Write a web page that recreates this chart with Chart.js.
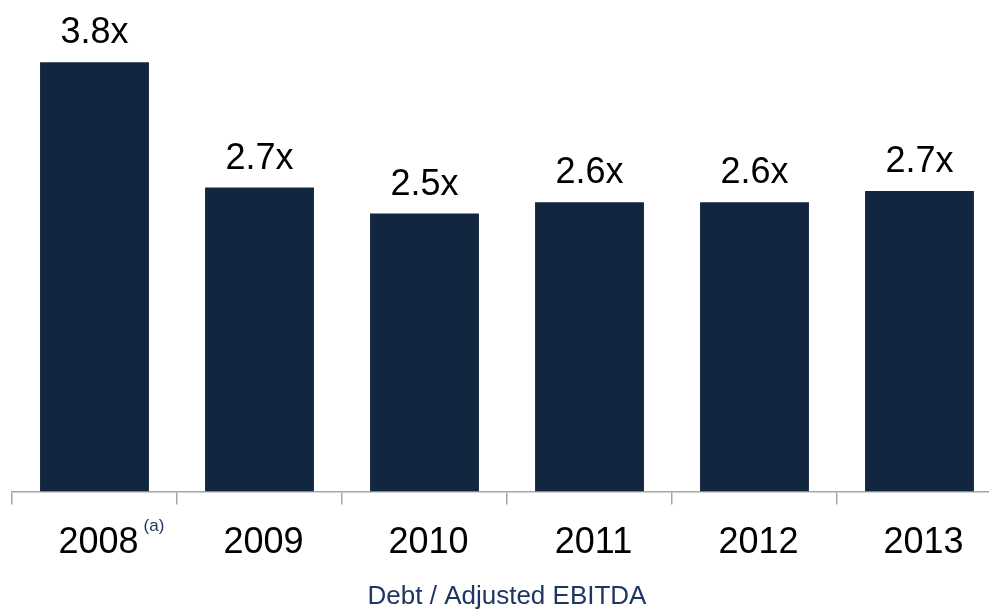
<!DOCTYPE html>
<html>
<head>
<meta charset="utf-8">
<script src="https://cdn.jsdelivr.net/npm/chart.js@4/dist/chart.umd.min.js"></script>
<style>
  html, body { margin: 0; padding: 0; background: #fff; overflow: hidden; }
  #wrap { width: 1014px; height: 610px; }
</style>
</head>
<body>
<div id="wrap"><canvas id="debtChart"></canvas></div>
<script>
// data
const years = ['2008', '2009', '2010', '2011', '2012', '2013'];
const leverage = [3.8, 2.69, 2.46, 2.56, 2.56, 2.66];
const valueLabels = ['3.8x', '2.7x', '2.5x', '2.6x', '2.6x', '2.7x'];
const footnotes = ['(a)', '', '', '', '', ''];
const chartTitle = 'Debt / Adjusted EBITDA';

const navy = '#13263f';
const titleBlue = '#1f3660';
const axisGrey = '#a6a6a6';
const fontFamily = '"Liberation Sans", Arial, sans-serif';

// draws the "3.8x" labels above the bars and the "(a)" note after 2008
const labelPlugin = {
    id: 'barLabels',
    afterDatasetsDraw(chart) {
        const ctx = chart.ctx;
        const meta = chart.getDatasetMeta(0);
        ctx.save();
        ctx.fillStyle = '#000';
        ctx.font = '36px ' + fontFamily;
        ctx.textAlign = 'center';
        ctx.textBaseline = 'alphabetic';
        meta.data.forEach((bar, i) => {
            ctx.fillText(valueLabels[i], bar.x, bar.y - 19);
        });

        const xScale = chart.scales.x;
        const labelY = chart.chartArea.bottom + 35;
        ctx.fillStyle = titleBlue;
        ctx.textAlign = 'left';
        ctx.textBaseline = 'middle';
        footnotes.forEach((note, i) => {
            if (!note) return;
            ctx.font = '36px ' + fontFamily;
            const w = ctx.measureText(years[i]).width;
            ctx.font = '17px ' + fontFamily;
            const x = xScale.getPixelForValue(i) + 4 + w / 2 + 5;
            ctx.fillText(note, x, labelY);
        });
        ctx.restore();
    }
};

const ctx = document.getElementById('debtChart').getContext('2d');
const debtChart = new Chart(ctx, {
    type: 'bar',
    data: {
        labels: years,
        datasets: [{
            data: leverage,
            backgroundColor: navy,
            borderWidth: 0,
            barPercentage: 0.66,
            categoryPercentage: 1.0
        }]
    },
    options: {
        responsive: true,
        maintainAspectRatio: false,
        animation: false,
        layout: { padding: { left: 12, right: 12, top: 0, bottom: 0 } },
        plugins: {
            legend: { display: false },
            tooltip: { enabled: false },
            title: {
                display: true,
                text: chartTitle,
                position: 'bottom',
                color: titleBlue,
                font: { family: fontFamily, size: 26, weight: 'normal', lineHeight: 1.05 },
                padding: { top: 1, bottom: 0 }
            }
        },
        scales: {
            x: {
                offset: true,
                grid: {
                    offset: true,
                    drawOnChartArea: false,
                    drawTicks: true,
                    tickLength: 13,
                    color: axisGrey,
                    lineWidth: 1.5
                },
                border: { display: true, color: axisGrey, width: 1.5 },
                ticks: {
                    color: '#000',
                    font: { family: fontFamily, size: 36, lineHeight: 1.2 },
                    padding: 17,
                    labelOffset: 4,
                    maxRotation: 0
                }
            },
            y: {
                display: false,
                min: 0,
                max: 4.35
            }
        }
    },
    plugins: [labelPlugin]
});
</script>
</body>
</html>
